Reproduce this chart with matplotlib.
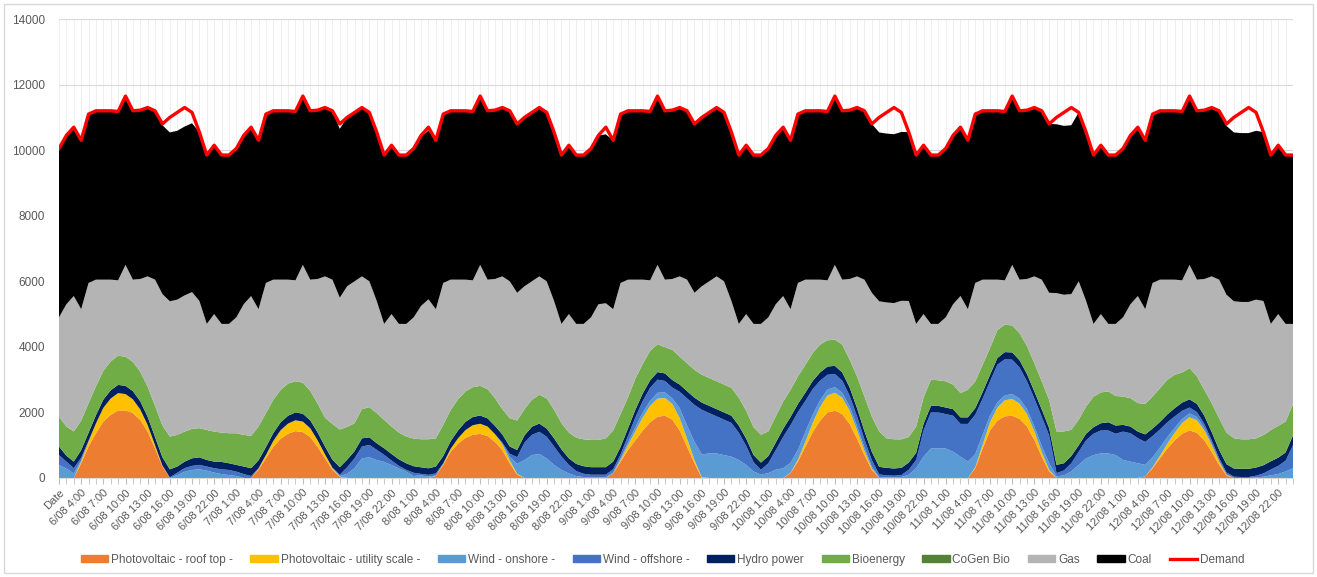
import numpy as np
import matplotlib
matplotlib.use("Agg")
import matplotlib.pyplot as plt
from matplotlib.patches import Rectangle, Patch
from matplotlib.lines import Line2D

plt.rcParams['font.family'] = ['Liberation Sans', 'DejaVu Sans']

# hourly generation mix 6/08 - 12/08, one row of 24 values per day
roof_top = [
    0, 0, 0, 450, 960, 1365, 1720, 1925, 2060, 2060, 1980, 1770, 1415, 900, 350, 0, 0, 0, 0, 0, 0, 0, 0, 0,
    0, 0, 0, 250, 600, 950, 1200, 1350, 1430, 1400, 1250, 950, 600, 250, 30, 0, 0, 0, 0, 0, 0, 0, 0, 0,
    0, 0, 0, 60, 400, 800, 1050, 1220, 1320, 1345, 1280, 1100, 850, 450, 100, 0, 0, 0, 0, 0, 0, 0, 0, 0,
    0, 0, 0, 140, 500, 850, 1150, 1450, 1700, 1870, 1900, 1780, 1450, 950, 450, 0, 0, 0, 0, 0, 0, 0, 0, 0,
    0, 0, 0, 150, 500, 950, 1400, 1750, 2000, 2050, 1950, 1650, 1200, 700, 250, 0, 0, 0, 0, 0, 0, 0, 0, 0,
    0, 0, 0, 0, 300, 900, 1450, 1750, 1880, 1900, 1800, 1570, 1160, 650, 200, 0, 0, 0, 0, 0, 0, 0, 0, 0,
    0, 0, 0, 50, 300, 600, 900, 1150, 1350, 1450, 1380, 1150, 800, 400, 80, 0, 0, 0, 0, 0, 0, 0, 0, 0,
]
utility = [
    0, 0, 0, 50, 150, 300, 420, 500, 530, 500, 420, 320, 200, 100, 30, 0, 0, 0, 0, 0, 0, 0, 0, 0,
    0, 0, 0, 30, 100, 180, 260, 310, 330, 320, 270, 200, 120, 50, 10, 0, 0, 0, 0, 0, 0, 0, 0, 0,
    0, 0, 0, 0, 30, 90, 160, 240, 290, 310, 290, 240, 170, 90, 30, 0, 0, 0, 0, 0, 0, 0, 0, 0,
    0, 0, 0, 0, 50, 150, 280, 400, 500, 550, 540, 480, 380, 250, 100, 20, 0, 0, 0, 0, 0, 0, 0, 0,
    0, 0, 0, 10, 60, 150, 280, 420, 520, 550, 500, 400, 260, 130, 40, 0, 0, 0, 0, 0, 0, 0, 0, 0,
    0, 0, 0, 0, 30, 120, 250, 400, 490, 510, 470, 380, 260, 140, 50, 0, 0, 0, 0, 0, 0, 0, 0, 0,
    0, 0, 0, 0, 30, 80, 150, 230, 330, 400, 380, 300, 200, 100, 20, 0, 0, 0, 0, 0, 0, 0, 0, 0,
]
onshore = [
    400, 290, 140, 40, 0, 0, 0, 0, 0, 0, 0, 0, 0, 0, 0, 0, 90, 190, 245, 265, 225, 165, 120, 90,
    60, 0, 0, 0, 0, 0, 0, 0, 0, 0, 0, 0, 0, 0, 20, 130, 300, 600, 630, 550, 490, 397, 295, 194,
    60, 82, 40, 20, 0, 0, 0, 0, 0, 0, 0, 0, 30, 100, 300, 550, 700, 730, 600, 400, 245, 140, 60, 30,
    20, 20, 20, 30, 50, 80, 120, 150, 150, 180, 170, 170, 300, 400, 550, 700, 750, 750, 700, 650, 550, 400, 200, 100,
    150, 250, 300, 300, 300, 300, 250, 200, 180, 170, 150, 130, 120, 100, 60, 30, 20, 20, 30, 100, 300, 650, 900, 900,
    900, 800, 650, 500, 400, 300, 200, 160, 150, 150, 150, 150, 150, 180, 200, 50, 80, 200, 400, 600, 700, 750, 750, 700,
    550, 500, 450, 350, 300, 250, 200, 150, 120, 120, 100, 80, 50, 30, 10, 0, 0, 0, 20, 40, 80, 120, 200, 300,
]
offshore = [
    300, 210, 160, 80, 30, 0, 0, 0, 0, 0, 0, 0, 0, 0, 0, 20, 70, 110, 125, 135, 125, 135, 145, 155,
    135, 120, 60, 20, 0, 0, 0, 0, 0, 0, 0, 0, 0, 20, 40, 200, 300, 360, 380, 310, 217, 137, 75, 54,
    100, 44, 56, 60, 20, 0, 0, 0, 0, 0, 0, 0, 30, 100, 206, 530, 615, 680, 660, 560, 410, 260, 150, 100,
    80, 80, 80, 100, 120, 200, 300, 350, 400, 400, 350, 330, 500, 830, 1130, 1360, 1230, 1130, 1080, 1030, 830, 580, 280, 150,
    300, 600, 950, 1150, 1150, 950, 780, 600, 450, 400, 370, 330, 300, 250, 200, 80, 60, 50, 60, 150, 250, 800, 1100, 1100,
    1050, 1100, 1000, 1150, 1200, 1100, 1050, 1150, 1100, 1050, 950, 850, 850, 900, 850, 100, 150, 250, 400, 550, 650, 700, 700, 650,
    866, 865, 766, 700, 650, 550, 450, 350, 250, 180, 150, 120, 100, 80, 60, 40, 30, 30, 50, 100, 180, 250, 330, 700,
]
hydro = [
    260, 180, 200, 230, 240, 250, 250, 250, 250, 250, 250, 250, 250, 250, 250, 245, 190, 200, 230, 230, 200, 200, 225, 205,
    205, 230, 240, 240, 240, 240, 240, 240, 240, 240, 240, 240, 240, 240, 230, 230, 220, 250, 230, 200, 200, 200, 200, 200,
    200, 200, 200, 210, 220, 230, 240, 250, 250, 250, 250, 250, 250, 220, 220, 220, 250, 250, 250, 250, 220, 200, 220, 230,
    230, 230, 230, 230, 230, 230, 230, 230, 230, 230, 230, 230, 220, 220, 220, 220, 220, 220, 220, 220, 220, 220, 220, 220,
    220, 230, 250, 250, 250, 250, 250, 250, 250, 250, 250, 250, 250, 250, 250, 230, 230, 220, 220, 220, 220, 200, 200, 200,
    200, 200, 200, 200, 200, 200, 200, 200, 220, 220, 220, 220, 220, 220, 220, 250, 220, 220, 200, 200, 200, 220, 250, 250,
    204, 205, 200, 230, 230, 230, 240, 250, 250, 250, 250, 250, 250, 250, 250, 250, 250, 250, 250, 250, 250, 250, 250, 300,
]
bioenergy = [
    915, 890, 920, 900, 900, 880, 880, 880, 890, 890, 890, 900, 920, 950, 970, 1000, 965, 915, 900, 890, 915, 915, 895, 915,
    965, 965, 985, 1030, 1037, 1015, 990, 980, 950, 950, 900, 880, 880, 1090, 1150, 1000, 850, 890, 920, 917, 866, 836, 815, 816,
    842, 856, 886, 860, 950, 950, 950, 930, 910, 905, 890, 845, 770, 864, 897, 800, 820, 880, 920, 870, 800, 785, 800, 820,
    830, 830, 880, 950, 1000, 950, 950, 900, 900, 850, 800, 920, 850, 850, 850, 850, 850, 850, 850, 850, 850, 850, 850, 850,
    750, 800, 830, 830, 840, 850, 850, 850, 800, 800, 850, 850, 970, 1060, 1075, 1080, 900, 890, 870, 780, 800, 800, 800, 780,
    800, 750, 740, 840, 815, 835, 815, 850, 840, 820, 830, 850, 860, 860, 860, 1020, 970, 800, 780, 830, 930, 940, 940, 900,
    866, 865, 867, 932, 976, 1031, 1056, 1019, 920, 952, 840, 790, 883, 964, 965, 923, 900, 900, 890, 920, 950, 970, 940, 950,
]
cogen_bio = [0] * 168
gas = [
    3025, 3730, 4130, 3400, 3670, 3255, 2780, 2495, 2300, 2800, 2510, 2830, 3365, 3850, 4010, 4125, 4125, 4155, 4170, 3880, 3235, 3585, 3315, 3335,
    3535, 3985, 4265, 3580, 3973, 3665, 3360, 3170, 3080, 3590, 3390, 3800, 4310, 4400, 4020, 4290, 4330, 4050, 3840, 3423, 2927, 3430, 3315, 3436,
    3698, 4068, 4268, 3940, 4330, 3980, 3650, 3410, 3260, 3690, 3340, 3635, 4050, 4176, 3897, 3750, 3615, 3610, 3570, 3320, 3025, 3615, 3470, 3520,
    3740, 4140, 4120, 3700, 4000, 3590, 3020, 2570, 2150, 2420, 2060, 2160, 2450, 2550, 2350, 2700, 2950, 3200, 3150, 2650, 2250, 2950, 3150, 3380,
    3480, 3420, 3220, 2460, 2850, 2600, 2240, 1980, 1830, 2280, 1980, 2460, 3050, 3560, 3775, 3970, 4145, 4155, 4225, 4150, 3130, 2550, 1700, 1720,
    1950, 2450, 2960, 2460, 3005, 2595, 2085, 1540, 1350, 1850, 1630, 2050, 2650, 3100, 3270, 4220, 4170, 4140, 4220, 3220, 2220, 2390, 2060, 2200,
    2414, 2865, 3267, 2888, 3464, 3309, 3054, 2901, 2810, 3148, 2950, 3380, 3867, 4226, 4205, 4177, 4190, 4190, 4230, 4090, 3240, 3410, 2980, 2450,
]
coal = [5150] * 168
demand = [
    10050, 10450, 10700, 10300, 11100, 11200, 11200, 11200, 11180, 11650, 11200, 11220, 11300, 11200, 10800, 11000, 11150, 11300, 11150, 10550, 9850, 10150, 9850, 9850,
    10050, 10450, 10700, 10300, 11100, 11200, 11200, 11200, 11180, 11650, 11200, 11220, 11300, 11200, 10800, 11000, 11150, 11300, 11150, 10550, 9850, 10150, 9850, 9850,
    10050, 10450, 10700, 10300, 11100, 11200, 11200, 11200, 11180, 11650, 11200, 11220, 11300, 11200, 10800, 11000, 11150, 11300, 11150, 10550, 9850, 10150, 9850, 9850,
    10050, 10450, 10700, 10300, 11100, 11200, 11200, 11200, 11180, 11650, 11200, 11220, 11300, 11200, 10800, 11000, 11150, 11300, 11150, 10550, 9850, 10150, 9850, 9850,
    10050, 10450, 10700, 10300, 11100, 11200, 11200, 11200, 11180, 11650, 11200, 11220, 11300, 11200, 10800, 11000, 11150, 11300, 11150, 10550, 9850, 10150, 9850, 9850,
    10050, 10450, 10700, 10300, 11100, 11200, 11200, 11200, 11180, 11650, 11200, 11220, 11300, 11200, 10800, 11000, 11150, 11300, 11150, 10550, 9850, 10150, 9850, 9850,
    10050, 10450, 10700, 10300, 11100, 11200, 11200, 11200, 11180, 11650, 11200, 11220, 11300, 11200, 10800, 11000, 11150, 11300, 11150, 10550, 9850, 10150, 9850, 9850,
]

names = ['Photovoltaic - roof top -', 'Photovoltaic - utility scale -', 'Wind - onshore -',
         'Wind - offshore -', 'Hydro power', 'Bioenergy', 'CoGen Bio', 'Gas', 'Coal']
colors = ['#ED7D31', '#FFC000', '#5B9BD5', '#4472C4', '#002060', '#70AD47', '#548235', '#B4B4B4', '#000000']

# category labels: first row is the header cell "Date", then hourly stamps
labels = ['Date']
for i in range(1, len(demand)):
    t = i + 1
    labels.append('%d/08 %d:00' % (6 + t // 24, t % 24))

x = np.arange(len(demand))

fig = plt.figure(figsize=(13.17, 5.77), dpi=100)
ax = fig.add_axes([59 / 1317, 1 - 478 / 577, (1293 - 59) / 1317, (478 - 19) / 577])

ax.stackplot(x, roof_top, utility, onshore, offshore, hydro, bioenergy, cogen_bio, gas, coal,
             colors=colors, labels=names, linewidth=0)
ax.plot(x, demand, color='#FF0000', lw=2.4, label='Demand')

ax.set_xlim(0, len(demand) - 1)
ax.set_ylim(0, 14000)
ax.set_yticks(np.arange(0, 14001, 2000))
ax.set_xticks(x[::3])
ax.set_xticklabels(labels[::3], rotation=45, ha='right', rotation_mode='anchor')
ax.set_xticks(x, minor=True)

ax.set_axisbelow(True)
ax.grid(axis='y', color='#D9D9D9', lw=0.8)
ax.grid(axis='x', which='both', color='#EDEDED', lw=0.6)

for s in ['top', 'right', 'left']:
    ax.spines[s].set_visible(False)
ax.spines['bottom'].set_color('#D9D9D9')
ax.tick_params(axis='y', length=0, pad=10, labelsize=8.5, labelcolor='#595959')
ax.tick_params(axis='x', which='both', length=4, color='#BFBFBF', labelsize=8, labelcolor='#595959', pad=3)

handles = [Patch(color=c) for c in colors] + [Line2D([], [], color='#FF0000', lw=2.4)]
leg = fig.legend(handles, names + ['Demand'], loc='center', bbox_to_anchor=(0.503, 1 - 560 / 577),
                 ncol=10, frameon=False, fontsize=8.5, handlelength=2.3, handleheight=0.55,
                 handletextpad=0.25, columnspacing=1.5)
for t in leg.get_texts():
    t.set_color('#595959')

fig.patches.append(Rectangle((4 / 1317, 4 / 577), 1 - 8 / 1317, 1 - 8 / 577, transform=fig.transFigure,
                             fill=False, edgecolor='#D9D9D9', lw=1))

fig.savefig('out.png', dpi=100)
